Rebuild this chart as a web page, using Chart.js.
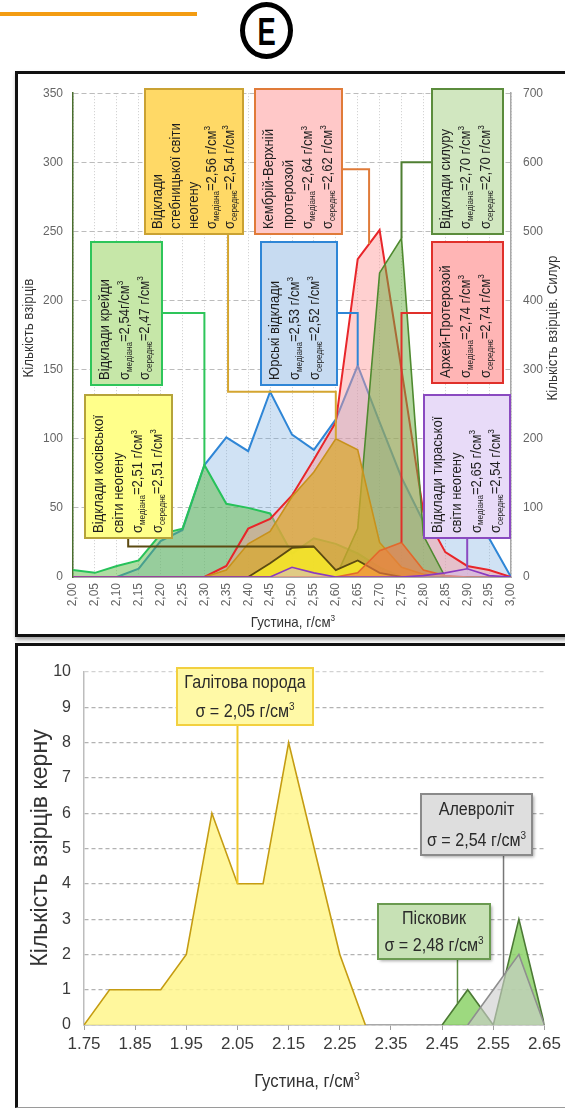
<!DOCTYPE html>
<html lang="uk">
<head>
<meta charset="utf-8">
<title>Густина порід</title>
<script src="https://cdn.jsdelivr.net/npm/chart.js@4.4.1/dist/chart.umd.min.js"></script>
<style>
  html, body { margin: 0; padding: 0; background: #fff; }
  body { width: 565px; height: 1110px; position: relative; overflow: hidden;
         font-family: 'Liberation Sans', Arial, sans-serif; }
  .rule { position: absolute; left: 0; top: 12px; width: 197px; height: 4px; background: #f39c12; }
  .badge { position: absolute; left: 240px; top: 2px; width: 43px; height: 47px;
           border: 5px solid #000; border-radius: 50%;
           display: flex; align-items: center; justify-content: center; }
  .badge span { font: bold 38px 'Liberation Sans', Arial, sans-serif; line-height: 1;
                transform: scaleX(0.72); margin-top: 3px; color: #000; }
  .panel { position: absolute; background: #fff; }
  #panelTop { left: 15px; top: 71px; width: 600px; height: 560px; border: 3px solid #111;
              box-shadow: 1px 3px 4px rgba(0,0,0,0.35); }
  #panelBottom { left: 15px; top: 643px; width: 600px; height: 461px;
                 border-left: 3px solid #111; border-top: 3px solid #111;
                 border-bottom: 1px solid #9a9a9a; }
  canvas { position: absolute; }
  #densityChart { left: 18px; top: 74px; }
  #coreChart { left: 18px; top: 646px; }
</style>
</head>
<body>
<div class="rule"></div>
<div class="badge"><span>E</span></div>
<div class="panel" id="panelTop"></div>
<div class="panel" id="panelBottom"></div>
<canvas id="densityChart" width="547" height="560"></canvas>
<canvas id="coreChart" width="547" height="461"></canvas>

<script>
// ---------- Upper histogram: sample counts per density class (g/cm³) ----------
const densityBins = [2.00, 2.05, 2.10, 2.15, 2.20, 2.25, 2.30, 2.35, 2.40, 2.45, 2.50,
                     2.55, 2.60, 2.65, 2.70, 2.75, 2.80, 2.85, 2.90, 2.95, 3.00];
const countTicks    = [0, 50, 100, 150, 200, 250, 300, 350];
const silurTicks    = [0, 100, 200, 300, 400, 500, 600, 700];

const jurassic   = [0, 0, 0, 6, 26, 34, 81, 101, 91, 134, 103, 92, 114, 153, 112, 72, 40, 31, 30, 28, 0];
const cretaceous = [5, 3, 8, 12, 31, 35, 81, 53, 50, 46, 17, 28, 24, 17, 7, 0, 0, 0, 0, 0, 0];
const cambrian   = [0, 0, 0, 0, 0, 0, 0, 8, 35, 42, 59, 85, 112, 230, 251, 150, 47, 18, 8, 5, 0];
const silurian   = [0, 0, 0, 0, 0, 0, 0, 0, 0, 0, 0, 0, 0, 70, 440, 490, 60, 0, 0, 0, 0]; // right axis
const stebnyk    = [0, 0, 0, 0, 0, 0, 0, 5, 24, 33, 58, 76, 100, 92, 25, 7, 2, 0, 0, 0, 0];
const kosiv      = [0, 0, 0, 0, 0, 0, 0, 0, 0, 10, 21, 22, 5, 12, 3, 0, 0, 0, 0, 0, 0];
const archean    = [0, 0, 0, 0, 0, 0, 0, 0, 0, 0, 0, 0, 0, 3, 19, 25, 5, 1, 0, 0, 0];
const tyras      = [0, 0, 0, 0, 0, 0, 0, 0, 0, 0, 7, 3, 0, 0, 0, 0, 1, 3, 6, 1, 0];

// Callout texts (_{..} = subscript, ^{..} = superscript)
const cretaceousNote = ['Відклади крейди', 'σ_{медіана}=2,54г/см^{3}', 'σ_{середнє}=2,47 г/см^{3}'];
const stebnykNote    = ['Відклади', 'стебницької світи', 'неогену', 'σ_{медіана}=2,56 г/см^{3}', 'σ_{середнє}=2,54 г/см^{3}'];
const cambrianNote   = ['Кембрій-Верхній', 'протерозой', 'σ_{медіана}=2,64 г/см^{3}', 'σ_{середнє}=2,62 г/см^{3}'];
const silurianNote   = ['Відклади силуру', 'σ_{медіана}=2,70 г/см^{3}', 'σ_{середнє}=2,70 г/см^{3}'];
const jurassicNote   = ['Юрські відклади', 'σ_{медіана}=2,53 г/см^{3}', 'σ_{середнє}=2,52 г/см^{3}'];
const archeanNote    = ['Архей-Протерозой', 'σ_{медіана}=2,74 г/см^{3}', 'σ_{середнє}=2,74 г/см^{3}'];
const kosivNote      = ['Відклади косівської', 'світи неогену', 'σ_{медіана}=2,51 г/см^{3}', 'σ_{середнє}=2,51 г/см^{3}'];
const tyrasNote      = ['Відклади тираської', 'світи неогену', 'σ_{медіана}=2,65 г/см^{3}', 'σ_{середнє}=2,54 г/см^{3}'];

// ---------- Lower histogram: core samples ----------
const coreTicks      = [1.75, 1.85, 1.95, 2.05, 2.15, 2.25, 2.35, 2.45, 2.55, 2.65];
const coreCountTicks = [0, 1, 2, 3, 4, 5, 6, 7, 8, 9, 10];
const haliteDensity  = [1.75, 1.80, 1.85, 1.90, 1.95, 2.00, 2.05, 2.10, 2.15, 2.20, 2.25, 2.30];
const haliteCount    = [0, 1, 1, 1, 2, 6, 4, 4, 8, 5, 2, 0];
const sandDensity    = [2.45, 2.50, 2.55, 2.60, 2.65];
const sandCount      = [0, 1, 0, 3, 0];
const siltDensity    = [2.50, 2.55, 2.60, 2.65];
const siltCount      = [0, 1, 2, 0];

const haliteNote = ['Галітова порода', 'σ = 2,05 г/см^{3}'];
const siltNote   = ['Алевроліт', 'σ = 2,54 г/см^{3}'];
const sandNote   = ['Пісковик', 'σ = 2,48 г/см^{3}'];

// ---------- helpers ----------
const FONT = "'Liberation Sans',Arial,sans-serif";

const pairs = (xs, ys) => xs.map((x, i) => ({ x: x, y: ys[i] }));
// value of a polyline series at density x
function valueAt(xs, ys, x) {
  for (let i = 0; i < xs.length - 1; i++) {
    if (x >= xs[i] - 1e-9 && x <= xs[i + 1] + 1e-9) {
      const t = (x - xs[i]) / (xs[i + 1] - xs[i]);
      return ys[i] + t * (ys[i + 1] - ys[i]);
    }
  }
  return 0;
}

function richParts(s) {
  const out = [];
  const re = /([_^])\{([^}]*)\}|([^_^]+)/g;
  let m;
  while ((m = re.exec(s))) {
    if (m[1]) out.push({ t: m[2], mode: m[1] === '_' ? 'sub' : 'sup' });
    else out.push({ t: m[3], mode: 'n' });
  }
  return out;
}
// sx < 1 condenses the text horizontally
function richWidth(ctx, s, size, sx) {
  let w = 0;
  for (const p of richParts(s)) {
    ctx.font = (p.mode === 'n' ? size : size * 0.62) + 'px ' + FONT;
    w += ctx.measureText(p.t).width;
  }
  return w * (sx || 1);
}
function drawRich(ctx, s, x, y, size, sx) {
  ctx.save();
  ctx.translate(x, y);
  ctx.scale(sx || 1, 1);
  let cx = 0;
  ctx.textAlign = 'left';
  ctx.textBaseline = 'middle';
  for (const p of richParts(s)) {
    const fs = p.mode === 'n' ? size : size * 0.62;
    const dy = p.mode === 'sub' ? size * 0.28 : (p.mode === 'sup' ? -size * 0.3 : 0);
    ctx.font = fs + 'px ' + FONT;
    ctx.fillText(p.t, cx, dy);
    cx += ctx.measureText(p.t).width;
  }
  ctx.restore();
}

// Boxed notes with leader lines, placed in data coordinates
const calloutPlugin = {
  id: 'callouts',
  afterDatasetsDraw(chart, args, opts) {
    const ctx = chart.ctx;
    const xs = chart.scales.x;
    const px = v => xs.getPixelForValue(v);
    const py = (v, axis) => chart.scales[axis || 'y'].getPixelForValue(v);
    ctx.save();
    for (const c of opts.items) {
      ctx.beginPath();
      ctx.strokeStyle = c.line;
      ctx.lineWidth = c.lineWidth || 2;
      ctx.setLineDash([]);
      c.leader.forEach((p, k) => {
        const X = px(p[0]), Y = py(p[1], p[2]);
        if (k) ctx.lineTo(X, Y); else ctx.moveTo(X, Y);
      });
      ctx.stroke();
    }
    for (const c of opts.items) {
      const x0 = Math.round(px(c.box[0])), x1 = Math.round(px(c.box[1]));
      const yTop = Math.round(py(c.box[3])), yBot = Math.round(py(c.box[2]));
      ctx.save();
      if (c.shadow) {
        ctx.shadowColor = 'rgba(0,0,0,0.35)';
        ctx.shadowOffsetX = 2; ctx.shadowOffsetY = 2; ctx.shadowBlur = 3;
      }
      ctx.fillStyle = c.fill;
      ctx.fillRect(x0, yTop, x1 - x0, yBot - yTop);
      ctx.restore();
      ctx.strokeStyle = c.border;
      ctx.lineWidth = c.borderWidth || 2;
      ctx.strokeRect(x0, yTop, x1 - x0, yBot - yTop);
      ctx.fillStyle = opts.textColor;
      const size = opts.fontSize, sx = opts.condense || 1;
      if (opts.vertical) {
        const n = c.text.length;
        const step = Math.min(opts.lineStep, (x1 - x0 - 8) / n);
        c.text.forEach((line, i) => {
          ctx.save();
          ctx.translate(x0 + 4 + step * (i + 0.5), yBot - 5);
          ctx.rotate(-Math.PI / 2);
          drawRich(ctx, line, 0, 0, size, sx);
          ctx.restore();
        });
      } else {
        const h = yBot - yTop, n = c.text.length;
        c.text.forEach((line, i) => {
          const w = richWidth(ctx, line, size, sx);
          drawRich(ctx, line, (x0 + x1) / 2 - w / 2, yTop + h * (i + 0.5) / n + 1, size, sx);
        });
      }
    }
    ctx.restore();
  }
};

// Axis titles drawn at fixed canvas positions
const titlePlugin = {
  id: 'axisTitles',
  afterDraw(chart, args, opts) {
    const ctx = chart.ctx;
    ctx.save();
    ctx.fillStyle = opts.color;
    for (const t of opts.items) {
      ctx.save();
      ctx.translate(t.x, t.y);
      ctx.rotate(t.rot || 0);
      const w = richWidth(ctx, t.text, t.size, t.sx);
      drawRich(ctx, t.text, -w / 2, 0, t.size, t.sx);
      ctx.restore();
    }
    ctx.restore();
  }
};

Chart.register(calloutPlugin, titlePlugin);

// ---------- upper chart ----------
function series(label, values, line, fill, width, axis) {
  return {
    label: label, data: pairs(densityBins, values), yAxisID: axis || 'y',
    borderColor: line, backgroundColor: fill, borderWidth: width, fill: 'origin',
    pointRadius: 0, tension: 0
  };
}

new Chart(document.getElementById('densityChart'), {
  type: 'line',
  data: {
    datasets: [
      series('Відклади тираської світи неогену', tyras, '#8a3ac0', 'rgba(205,180,240,0.45)', 1.6),
      series('Архей-Протерозой', archean, '#e2692c', 'rgba(240,120,70,0.6)', 1.6),
      series('Відклади косівської світи неогену', kosiv, '#5c4a12', 'rgba(246,232,40,0.85)', 1.8),
      series('Відклади стебницької світи неогену', stebnyk, '#c8921c', 'rgba(218,168,45,0.72)', 1.6),
      series('Відклади силуру', silurian, '#4f8a2f', 'rgba(105,175,65,0.5)', 1.6, 'y2'),
      series('Кембрій-Верхній протерозой', cambrian, '#e8262a', 'rgba(255,150,150,0.45)', 2),
      series('Відклади крейди', cretaceous, '#27c25a', 'rgba(95,185,70,0.5)', 2),
      series('Юрські відклади', jurassic, '#2f86d6', 'rgba(110,165,220,0.32)', 2)
    ]
  },
  options: {
    responsive: false,
    animation: false,
    events: [],
    layout: { padding: { top: 8, left: 0, right: 0, bottom: 0 } },
    plugins: {
      legend: { display: false },
      tooltip: { enabled: false },
      callouts: {
        vertical: true, fontSize: 14.5, condense: 0.9, lineStep: 20, textColor: '#1e1e1e',
        items: [
          { text: cretaceousNote, box: [2.041, 2.203, 139, 242], fill: '#c6e7a8', border: '#2ec55a', line: '#2ec55a',
            leader: [[2.203, 191], [2.30, 191], [2.30, valueAt(densityBins, cretaceous, 2.30)]] },
          { text: stebnykNote, box: [2.164, 2.388, 248, 353], fill: '#ffd966', border: '#caa233', line: '#d4a530',
            leader: [[2.354, 248], [2.354, 134], [2.60, 134], [2.60, valueAt(densityBins, stebnyk, 2.60)]] },
          { text: cambrianNote, box: [2.416, 2.614, 248, 353], fill: '#ffc8c8', border: '#e07b39', line: '#e07b39',
            leader: [[2.614, 295], [2.676, 295], [2.676, valueAt(densityBins, cambrian, 2.676)]] },
          { text: silurianNote, box: [2.820, 2.982, 248, 353], fill: '#d1e7c0', border: '#5b8c3c', line: '#4f7f32',
            leader: [[2.820, 300], [2.75, 300], [2.75, valueAt(densityBins, silurian, 2.75), 'y2']] },
          { text: jurassicNote, box: [2.429, 2.603, 139, 242], fill: '#c7dbf1', border: '#2f86d6', line: '#2f86d6',
            leader: [[2.603, 191], [2.65, 191], [2.65, valueAt(densityBins, jurassic, 2.65)]] },
          { text: archeanNote, box: [2.820, 2.982, 140, 242], fill: '#ffb5b5', border: '#e0302a', line: '#e0302a',
            leader: [[2.820, 191], [2.75, 191], [2.75, valueAt(densityBins, archean, 2.75)]] },
          { text: kosivNote, box: [2.027, 2.226, 28, 132], fill: '#ffff8a', border: '#b5a33a', line: '#5c4a12',
            leader: [[2.126, 28], [2.126, valueAt(densityBins, kosiv, 2.55)], [2.55, valueAt(densityBins, kosiv, 2.55)]] },
          { text: tyrasNote, box: [2.801, 2.998, 28, 132], fill: '#e8dbf8', border: '#8a4ac0', line: '#8a4ac0',
            leader: [[2.90, 28], [2.90, valueAt(densityBins, tyras, 2.90)]] }
        ]
      },
      axisTitles: {
        color: '#333',
        items: [
          { text: 'Кількість взірців', x: 11, y: 254, rot: -Math.PI / 2, size: 14.5, sx: 0.92 },
          { text: 'Кількість взірців. Силур', x: 535, y: 254, rot: -Math.PI / 2, size: 14.5, sx: 0.92 },
          { text: 'Густина, г/см^{3}', x: 275, y: 549, size: 14.5, sx: 0.92 }
        ]
      }
    },
    scales: {
      x: {
        type: 'linear', min: 2.0, max: 3.0,
        afterBuildTicks: s => { s.ticks = densityBins.map(v => ({ value: v })); },
        afterFit: s => { s.height = 57; },
        ticks: { autoSkip: false, minRotation: 90, maxRotation: 90, padding: 6, color: '#666',
                 font: { family: FONT, size: 12 }, callback: v => v.toFixed(2).replace('.', ',') },
        grid: { color: '#cbcbcb', lineWidth: 1, drawTicks: false },
        border: { color: '#a8a8a8', dash: [1, 2] }
      },
      y: {
        position: 'left', min: 0, max: 350,
        afterBuildTicks: s => { s.ticks = countTicks.map(v => ({ value: v })); },
        afterFit: s => { s.width = 55; },
        ticks: { padding: 10, color: '#666', font: { family: FONT, size: 12 } },
        grid: { color: '#bcbcbc', lineWidth: 1, drawTicks: false },
        border: { color: '#4a6e2e', width: 1.5, dash: [5, 3] }
      },
      y2: {
        position: 'right', min: 0, max: 700,
        afterBuildTicks: s => { s.ticks = silurTicks.map(v => ({ value: v })); },
        afterFit: s => { s.width = 54; },
        ticks: { padding: 12, color: '#666', font: { family: FONT, size: 12 } },
        grid: { drawOnChartArea: false, drawTicks: false },
        border: { color: '#a8a8a8', width: 1.5 }
      }
    }
  }
});

// ---------- lower chart ----------
function coreSeries(label, xs, ys, line, fill) {
  return {
    label: label, data: pairs(xs, ys), borderColor: line, backgroundColor: fill,
    borderWidth: 1.6, fill: 'origin', pointRadius: 0, tension: 0
  };
}

new Chart(document.getElementById('coreChart'), {
  type: 'line',
  data: {
    datasets: [
      coreSeries('Алевроліт', siltDensity, siltCount, '#8f8f8f', 'rgba(205,205,205,0.62)'),
      coreSeries('Пісковик', sandDensity, sandCount, '#4c7a35', 'rgba(140,210,105,0.85)'),
      coreSeries('Галітова порода', haliteDensity, haliteCount, '#c59c12', 'rgba(255,246,140,0.85)')
    ]
  },
  options: {
    responsive: false,
    animation: false,
    events: [],
    layout: { padding: { top: 26, left: 0, right: 17, bottom: 0 } },
    plugins: {
      legend: { display: false },
      tooltip: { enabled: false },
      callouts: {
        vertical: false, fontSize: 17.5, condense: 0.92, lineStep: 20, textColor: '#2a2a2a',
        items: [
          { text: haliteNote, box: [1.932, 2.198, 8.50, 10.11], fill: '#fff9a6', border: '#f2d040', line: '#f0c828',
            leader: [[2.05, 8.50], [2.05, valueAt(haliteDensity, haliteCount, 2.05)]] },
          { text: siltNote, box: [2.409, 2.625, 4.82, 6.54], fill: '#dedede', border: '#8a8a8a', line: '#777',
            lineWidth: 1.5, shadow: true,
            leader: [[2.57, 4.82], [2.57, valueAt(siltDensity, siltCount, 2.57)]] },
          { text: sandNote, box: [2.324, 2.543, 1.87, 3.43], fill: '#c7e1b5', border: '#6a9a50', line: '#5a8a40',
            lineWidth: 1.5, shadow: true,
            leader: [[2.48, 1.87], [2.48, valueAt(sandDensity, sandCount, 2.48)]] }
        ]
      },
      axisTitles: {
        color: '#333',
        items: [
          { text: 'Кількість взірців керну', x: 22, y: 202, rot: -Math.PI / 2, size: 24, sx: 0.96 },
          { text: 'Густина, г/см^{3}', x: 289, y: 436, size: 19, sx: 0.88 }
        ]
      }
    },
    scales: {
      x: {
        type: 'linear', min: 1.75, max: 2.65,
        afterBuildTicks: s => { s.ticks = coreTicks.map(v => ({ value: v })); },
        afterFit: s => { s.height = 82; },
        ticks: { autoSkip: false, maxRotation: 0, padding: 4, color: '#3a3a3a',
                 font: { family: FONT, size: 17 }, callback: v => v.toFixed(2) },
        grid: { drawOnChartArea: false, drawTicks: true, tickLength: 5, color: '#a0a0a0' },
        border: { color: '#a8a8a8', width: 1.5 }
      },
      y: {
        min: 0, max: 10,
        afterBuildTicks: s => { s.ticks = coreCountTicks.map(v => ({ value: v })); },
        afterFit: s => { s.width = 66; },
        ticks: { padding: 13, color: '#3a3a3a', font: { family: FONT, size: 16 } },
        grid: { color: c => (c.tick && c.tick.value === 10 ? '#d2d2d2' : '#b2b2b2'), lineWidth: 1.2, drawTicks: false },
        border: { color: '#bdbdbd', width: 1.5, dash: [4, 3] }
      }
    }
  }
});
</script>
</body>
</html>
